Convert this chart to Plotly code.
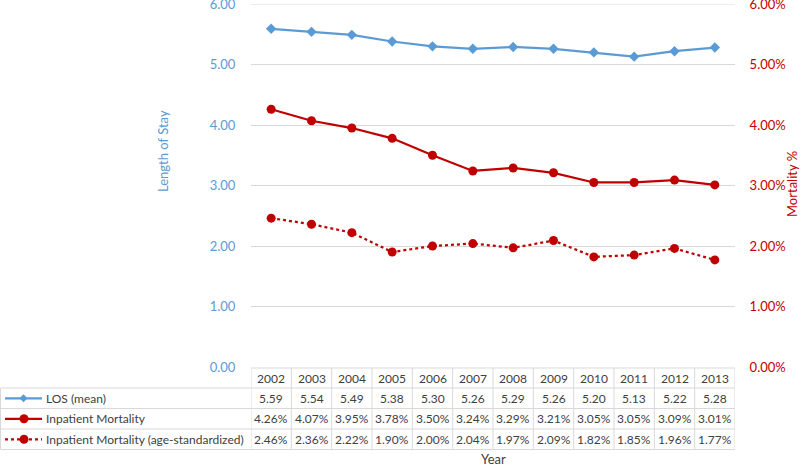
import plotly.graph_objects as go

years = ["2002", "2003", "2004", "2005", "2006", "2007", "2008", "2009", "2010", "2011", "2012", "2013"]
los_mean = [5.59, 5.54, 5.49, 5.38, 5.30, 5.26, 5.29, 5.26, 5.20, 5.13, 5.22, 5.28]
mortality = [4.26, 4.07, 3.95, 3.78, 3.50, 3.24, 3.29, 3.21, 3.05, 3.05, 3.09, 3.01]
mortality_std = [2.46, 2.36, 2.22, 1.90, 2.00, 2.04, 1.97, 2.09, 1.82, 1.85, 1.96, 1.77]
series_names = ["LOS (mean)", "Inpatient Mortality", "Inpatient Mortality (age-standardized)"]

W, H = 800, 466
BLUE = "#5B9BD5"
RED = "#C00000"
GRID = "#D9D9D9"
TXT = "#404040"
FONT = "Lato"

def py(y):  # pixel y -> paper
    return 1 - y / H

def px(x):
    return x / W

x0, x1 = 251, 735
ytop, ybot = 4, 367

fig = go.Figure()
fig.add_trace(go.Scatter(x=years, y=los_mean, name=series_names[0], mode="lines+markers",
                         line=dict(color=BLUE, width=2.25), marker=dict(symbol="diamond", size=8, color=BLUE),
                         yaxis="y", cliponaxis=False))
fig.add_trace(go.Scatter(x=years, y=[v / 100 for v in mortality], name=series_names[1], mode="lines+markers",
                         line=dict(color=RED, width=2.25), marker=dict(symbol="circle", size=9, color=RED),
                         yaxis="y2", cliponaxis=False))
fig.add_trace(go.Scatter(x=years, y=[v / 100 for v in mortality_std], name=series_names[2], mode="lines+markers",
                         line=dict(color=RED, width=2.25, dash="dot"), marker=dict(symbol="circle", size=9, color=RED),
                         yaxis="y2", cliponaxis=False))

shapes = []
annotations = []

# top gridline (at 6.00)
shapes.append(dict(type="line", xref="x", yref="y", x0=-0.5, x1=11.5, y0=6, y1=6, line=dict(color=GRID, width=1), layer="below"))

# table rows
row_edges = [368, 388, 408.5, 429, 449.5]
line_style = dict(color=GRID, width=1)
shapes.append(dict(type="line", xref="x", yref="paper", x0=-0.5, x1=11.5, y0=py(row_edges[0]), y1=py(row_edges[0]), line=line_style))
for ye in row_edges[1:]:
    shapes.append(dict(type="line", xref="paper", yref="paper", x0=px(0.5), x1=px(x0), y0=py(ye), y1=py(ye), line=line_style))
    shapes.append(dict(type="line", xref="x", yref="paper", x0=-0.5, x1=11.5, y0=py(ye), y1=py(ye), line=line_style))
for i in range(len(years) + 1):
    shapes.append(dict(type="line", xref="x", yref="paper", x0=i - 0.5, x1=i - 0.5,
                       y0=py(row_edges[0]), y1=py(row_edges[-1]), line=line_style))
shapes.append(dict(type="line", xref="paper", yref="paper", x0=px(0.5), x1=px(0.5),
                   y0=py(row_edges[1]), y1=py(row_edges[-1]), line=line_style))

rows = [years, ["%.2f" % v for v in los_mean], ["%.2f%%" % v for v in mortality], ["%.2f%%" % v for v in mortality_std]]
for r, vals in enumerate(rows):
    yc = (row_edges[r] + row_edges[r + 1]) / 2
    for i, v in enumerate(vals):
        annotations.append(dict(x=i, y=py(yc), xref="x", yref="paper", text=v, showarrow=False,
                                font=dict(family=FONT, size=12, color=TXT), xanchor="center", yanchor="middle"))

# legend column
leg_styles = [(BLUE, "solid", "diamond"), (RED, "solid", "circle"), (RED, "dot", "circle")]
for r in range(3):
    yc = (row_edges[r + 1] + row_edges[r + 2]) / 2
    col, dash, sym = leg_styles[r]
    shapes.append(dict(type="line", xref="paper", yref="paper", x0=px(5), x1=px(42), y0=py(yc), y1=py(yc),
                       line=dict(color=col, width=2.25, dash=dash)))
    if sym == "circle":
        shapes.append(dict(type="circle", xref="paper", yref="paper", x0=px(19.5), x1=px(28.5),
                           y0=py(yc + 4.5), y1=py(yc - 4.5), fillcolor=col, line=dict(color=col, width=0)))
    else:
        cx = 23.5
        path = "M %f %f L %f %f L %f %f L %f %f Z" % (px(cx - 4), py(yc), px(cx), py(yc - 4), px(cx + 4), py(yc), px(cx), py(yc + 4))
        shapes.append(dict(type="path", xref="paper", yref="paper", path=path, fillcolor=col, line=dict(color=col, width=0)))
    annotations.append(dict(x=px(44), y=py(yc), xref="paper", yref="paper", text=series_names[r], showarrow=False,
                            font=dict(family=FONT, size=12, color=TXT), xanchor="left", yanchor="middle"))

# axis titles
annotations.append(dict(x=px(163), y=py(151), xref="paper", yref="paper", text="Length of Stay", showarrow=False,
                        textangle=-90, font=dict(family=FONT, size=13, color=BLUE), xanchor="center", yanchor="middle"))
annotations.append(dict(x=px(792), y=py(184), xref="paper", yref="paper", text="Mortality %", showarrow=False,
                        textangle=-90, font=dict(family=FONT, size=13, color=RED), xanchor="center", yanchor="middle"))
annotations.append(dict(x=px(493), y=py(459), xref="paper", yref="paper", text="Year", showarrow=False,
                        font=dict(family=FONT, size=13, color=TXT), xanchor="center", yanchor="middle"))

fig.update_layout(
    width=W, height=H, margin=dict(l=0, r=0, t=0, b=0, autoexpand=False),
    paper_bgcolor="white", plot_bgcolor="white", showlegend=False,
    font=dict(family=FONT, size=12),
    xaxis=dict(domain=[px(x0), px(x1)], type="category", range=[-0.5, 11.5], showticklabels=False,
               showgrid=False, zeroline=False, showline=False, ticks="", automargin=False),
    yaxis=dict(domain=[py(ybot), py(ytop)], range=[-0.0001, 6.0001], tickvals=[0, 1, 2, 3, 4, 5, 6], tickformat=".2f",
               tickfont=dict(family=FONT, size=13, color=BLUE), showgrid=True, gridcolor=GRID, gridwidth=1,
               zeroline=False, showline=False, ticks="outside", ticklen=12, tickcolor="rgba(0,0,0,0)",
               automargin=False, ticklabeloverflow="allow"),
    yaxis2=dict(overlaying="y", side="right", range=[-0.000001, 0.060001], tickvals=[0, 0.01, 0.02, 0.03, 0.04, 0.05, 0.06],
                tickformat=".2%",
                tickfont=dict(family=FONT, size=13, color=RED), showgrid=False, zeroline=False, showline=False,
                ticks="outside", ticklen=11, tickcolor="rgba(0,0,0,0)", automargin=False,
                ticklabeloverflow="allow"),
    shapes=shapes, annotations=annotations,
)

fig.write_html("out.html", config={"displayModeBar": False},
               post_script="document.body.style.margin='0';document.body.style.overflow='hidden';")
